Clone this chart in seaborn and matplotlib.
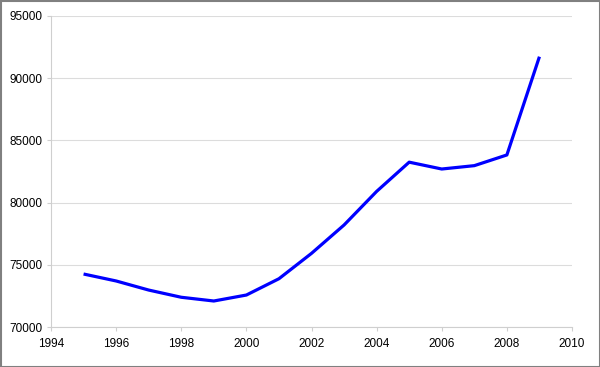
import matplotlib
matplotlib.use("Agg")
import matplotlib.pyplot as plt
import seaborn as sns
import pandas as pd
from matplotlib.patches import Rectangle

years = [1995, 1996, 1997, 1998, 1999, 2000, 2001, 2002, 2003, 2004,
         2005, 2006, 2007, 2008, 2009]
values = [74260, 73700, 72970, 72390, 72090, 72570, 73880, 75920, 78200, 80900,
          83250, 82700, 82970, 83830, 91730]
x_ticks = [1994, 1996, 1998, 2000, 2002, 2004, 2006, 2008, 2010]
y_ticks = [70000, 75000, 80000, 85000, 90000, 95000]

df = pd.DataFrame({"year": years, "value": values})

sns.set_theme(style="white")
plt.rcParams['font.family'] = ['Liberation Sans', 'DejaVu Sans']

fig = plt.figure(figsize=(6.0, 3.67), dpi=100)
ax = fig.add_axes([51/600, 40/367, (572-51)/600, (327-16)/367])

sns.lineplot(data=df, x="year", y="value", ax=ax, color=(0, 0, 1),
             linewidth=2.3, solid_capstyle="butt")

ax.set_xlim(1994, 2010)
ax.set_ylim(70000, 95000)
ax.set_xticks(x_ticks)
ax.set_yticks(y_ticks)
ax.set_xticklabels([str(t) for t in x_ticks])
ax.set_yticklabels([str(t) for t in y_ticks])
ax.set_xlabel("")
ax.set_ylabel("")

grid_c = "#dcdcdc"
ax.yaxis.grid(True, color=grid_c, linewidth=0.8)
ax.xaxis.grid(False)
ax.set_axisbelow(True)
for s in ["top", "right"]:
    ax.spines[s].set_visible(False)
for s in ["left", "bottom"]:
    ax.spines[s].set_color("#cfcfcf")
    ax.spines[s].set_linewidth(0.8)

ax.tick_params(axis="both", which="major", labelsize=8.5, colors="#cfcfcf",
               labelcolor="black", length=3, width=0.8, direction="out")
ax.tick_params(axis="x", pad=5, bottom=True)
ax.tick_params(axis="y", pad=3, left=True)

fig.patches.append(Rectangle((0.5/600, 0.5/367), 599/600, 366/367,
                             transform=fig.transFigure, fill=False,
                             edgecolor="#808080", linewidth=1.5))

fig.savefig("out.png", dpi=100)
